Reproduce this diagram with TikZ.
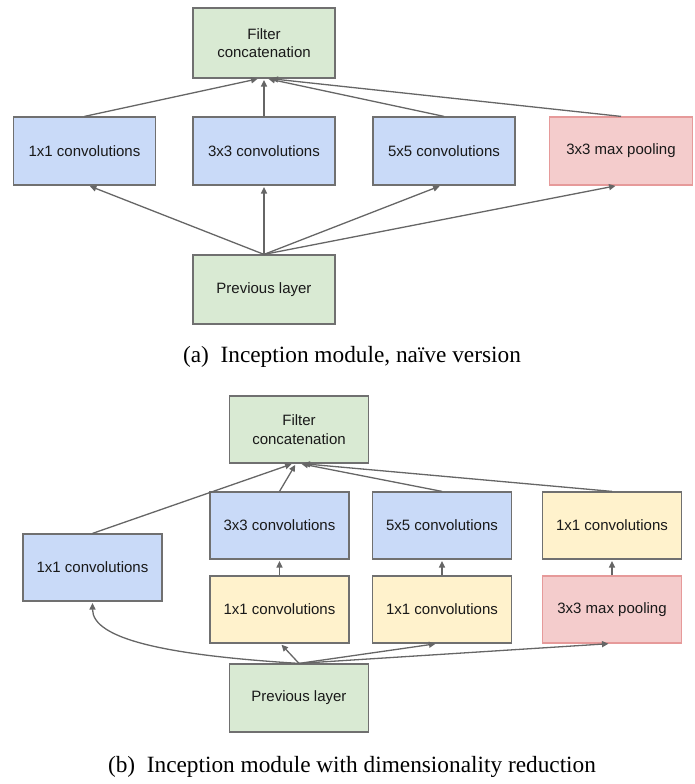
\documentclass[tikz,border=0pt]{standalone}
\usepackage{fontspec}
\setmainfont{Liberation Serif}
\newfontfamily\boxfont{Liberation Sans}
\usetikzlibrary{arrows.meta}
\definecolor{bluefill}{HTML}{C9DAF8}
\definecolor{greenfill}{HTML}{D9EAD3}
\definecolor{redfill}{HTML}{F4CCCC}
\definecolor{redline}{HTML}{E69A9A}
\definecolor{yellowfill}{HTML}{FFF2CC}
\definecolor{boxline}{HTML}{707070}
\definecolor{arrowcol}{HTML}{666666}
\tikzset{
  boxbase/.style={draw=boxline, line width=1.2pt, inner sep=0pt, align=center,
    font=\boxfont\fontsize{15}{18.5}\selectfont, text=black!90},
  abox/.style={boxbase, minimum width=142pt, minimum height=68pt},
  bbox/.style={boxbase, minimum width=139pt, minimum height=67pt},
  blue/.style={fill=bluefill},
  green/.style={fill=greenfill},
  red/.style={fill=redfill, draw=redline},
  yellow/.style={fill=yellowfill},
  conn/.style={draw=arrowcol, line width=1.3pt, shorten >=1.5pt, -{Triangle[length=6.5pt,width=6pt]}},
  capt/.style={font=\fontsize{23.3}{27}\selectfont}
}
\begin{document}
\begin{tikzpicture}[x=1pt,y=-1pt]
\useasboundingbox (0,0) rectangle (695,784);
% (a)
\node[abox,green,minimum height=70pt] (fa) at (264,43) {Filter\\concatenation};
\node[abox,blue] (c1a) at (84.5,151) {1x1 convolutions};
\node[abox,blue] (c3a) at (264,151) {3x3 convolutions};
\node[abox,blue] (c5a) at (444,151) {5x5 convolutions};
\node[abox,red,minimum width=143pt] (pa) at (621,151) {3x3 max pooling};
\node[abox,green,minimum height=69pt] (pla) at (264,289.5) {Previous layer};
\draw[conn] (c1a.north) -- ([xshift=-5pt]fa.south);
\draw[conn] (c3a.north) -- (fa.south);
\draw[conn] (c5a.north) -- ([xshift=3pt]fa.south);
\draw[conn] (pa.north) -- ([xshift=6pt]fa.south);
\draw[conn] (pla.north) -- ([xshift=4pt]c1a.south);
\draw[conn] (pla.north) -- (c3a.south);
\draw[conn] (pla.north) -- ([xshift=-3pt]c5a.south);
\draw[conn] (pla.north) -- ([xshift=-4pt]pa.south);
\node[capt] (capa) at (352,357) {(a)\enspace Inception module, na\"ive version};
% (b)
\node[bbox,green] (fb) at (299,429.5) {Filter\\concatenation};
\node[bbox,blue] (c1b) at (92.5,567.5) {1x1 convolutions};
\node[bbox,blue] (c3b) at (279.5,525.5) {3x3 convolutions};
\node[bbox,blue] (c5b) at (442,525.5) {5x5 convolutions};
\node[bbox,yellow] (r1b) at (612,525.5) {1x1 convolutions};
\node[bbox,yellow] (y1b) at (279.5,609.5) {1x1 convolutions};
\node[bbox,yellow] (y2b) at (442,609.5) {1x1 convolutions};
\node[bbox,red] (pb) at (612,609.5) {3x3 max pooling};
\node[bbox,green,minimum height=68pt] (plb) at (299,698) {Previous layer};
\draw[conn] (c1b.north) -- ([xshift=-6pt]fb.south);
\draw[conn] (c3b.north) -- ([xshift=-3pt]fb.south);
\draw[conn] (c5b.north) -- ([xshift=1pt]fb.south);
\draw[conn] (r1b.north) -- ([xshift=3pt]fb.south);
\draw[conn] (y1b.north) -- (c3b.south);
\draw[conn] (y2b.north) -- (c5b.south);
\draw[conn] (pb.north) -- (r1b.south);
\draw[conn] (plb.north) .. controls +(-130,-8) and +(0,38) .. (c1b.south);
\draw[conn] (plb.north) -- ([xshift=1pt]y1b.south);
\draw[conn] (plb.north) -- ([xshift=-5pt]y2b.south);
\draw[conn] (plb.north) -- ([xshift=-2pt]pb.south);
\node[capt] (capb) at (352,767) {(b)\enspace Inception module with dimensionality reduction};
\end{tikzpicture}
\end{document}
